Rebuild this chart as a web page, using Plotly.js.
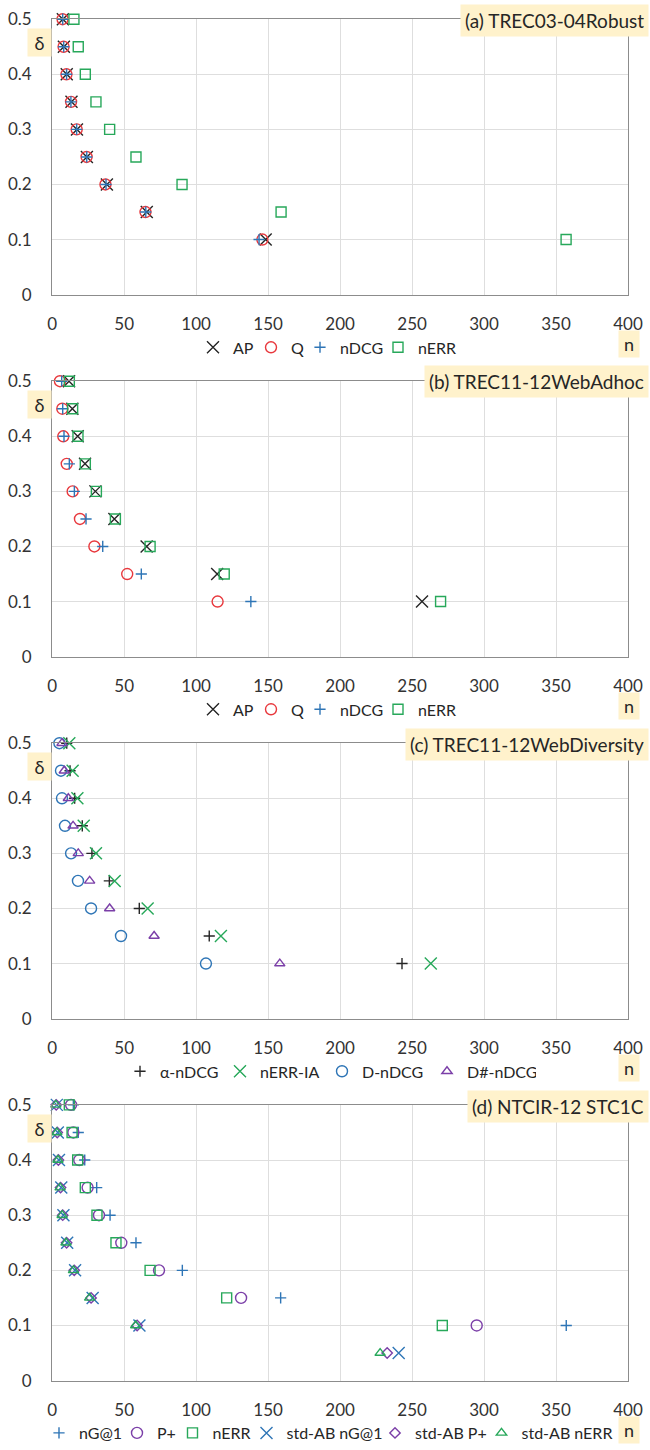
<!DOCTYPE html>
<html><head><meta charset="utf-8">
<script src="https://cdn.plot.ly/plotly-3.0.1.min.js"></script>
<style>body{margin:0;background:#fff}#chart{width:650px;height:1450px}</style>
</head><body><div id="chart"></div>
<script>
// ---- data ----
const deltas  = [0.5, 0.45, 0.4, 0.35, 0.3, 0.25, 0.2, 0.15, 0.1];
const deltasD = [0.5, 0.45, 0.4, 0.35, 0.3, 0.25, 0.2, 0.15, 0.1, 0.05];

const panelTitles = ["(a) TREC03-04Robust", "(b) TREC11-12WebAdhoc", "(c) TREC11-12WebDiversity", "(d) NTCIR-12 STC1C"];
const xTicks = [0, 50, 100, 150, 200, 250, 300, 350, 400];
const yTicks = [0, 0.1, 0.2, 0.3, 0.4, 0.5];

// (a) TREC03-04Robust
const a_AP   = [7.4, 8.1, 10.1, 13.4, 17.2, 24.1, 38.0, 65.7, 148.3];
const a_Q    = [7.2, 7.9, 9.9, 13.1, 17.0, 23.9, 37.0, 64.8, 146.0];
const a_nDCG = [7.3, 8.0, 10.0, 13.0, 17.0, 24.0, 37.4, 65.0, 143.7];
const a_nERR = [15.1, 18.1, 23.0, 30.4, 39.9, 58.2, 90.2, 159.0, 357.0];

// (b) TREC11-12WebAdhoc
const b_AP   = [11.7, 14.0, 17.7, 22.8, 30.0, 43.2, 65.6, 114.6, 256.9];
const b_Q    = [5.4, 7.0, 7.7, 10.1, 14.2, 19.3, 29.3, 52.1, 114.9];
const b_nDCG = [6.6, 7.3, 8.2, 11.9, 15.4, 23.5, 35.1, 61.9, 138.0];
const b_nERR = [11.9, 14.2, 17.9, 23.0, 30.7, 43.9, 68.0, 119.5, 269.8];

// (c) TREC11-12WebDiversity
const c_alphaNDCG = [10.1, 12.4, 15.6, 20.9, 27.6, 39.7, 60.5, 109.1, 243.0];
const c_nERRIA    = [11.9, 14.2, 17.5, 21.9, 30.4, 43.4, 66.3, 117.2, 263.0];
const c_DnDCG     = [5.0, 6.1, 6.8, 8.9, 13.1, 17.9, 27.0, 47.8, 106.8];
const c_DsharpNDCG= [6.8, 8.4, 11.2, 14.5, 18.1, 26.0, 39.9, 70.8, 158.1];

// (d) NTCIR-12 STC1C
const d_nG1      = [14.7, 18.1, 22.6, 30.9, 40.2, 58.2, 90.4, 158.7, 357.1];
const d_Pplus    = [13.1, 14.7, 18.8, 24.6, 32.5, 48.0, 74.2, 131.2, 294.9];
const d_nERR     = [11.9, 13.8, 17.7, 23.0, 31.1, 44.3, 68.0, 121.2, 271.0];
const d_stdNG1   = [3.2, 3.9, 4.7, 6.3, 7.8, 10.4, 15.9, 28.1, 60.6, 240.7];
const d_stdPplus = [2.8, 3.5, 4.3, 5.8, 7.3, 10.0, 15.3, 27.0, 59.0, 232.7];
const d_stdNERR  = [2.5, 3.2, 4.0, 5.5, 6.9, 9.6, 14.8, 26.0, 58.0, 227.8];

// ---- styling ----
const W = 650, H = 1450;
const FONT = 'Lato, "Open Sans", sans-serif';
const BLACK = '#262626', RED = '#e8383d', BLUE = '#2e75b6', GREEN = '#27a85a', PURPLE = '#7b3fa8';
const BOX = '#fff2cc';

const plotLeft = 52.2, plotRight = 628;
const panels = [ {top: 19.3, bottom: 296.3}, {top: 383.3, bottom: 660.3},
                 {top: 747.3, bottom: 1024.3}, {top: 1111, bottom: 1388.3} ];
const titleCy = [20.5, 384, 749, 1112.5];
const legendLeft = [193, 193, 120, 39];

function px2x(p) { return p / W; }
function px2y(p) { return 1 - p / H; }

function trace(x, y, name, symbol, color, size, axIdx, lw) {
  const suf = axIdx === 1 ? '' : String(axIdx);
  return {
    type: 'scatter', mode: 'markers', x: x, y: y, name: name,
    xaxis: 'x' + suf, yaxis: 'y' + suf,
    legend: 'legend' + suf,
    legendwidth: lw,
    cliponaxis: false,
    marker: { symbol: symbol, color: color, size: size, line: { color: color, width: 1.4 } },
    hoverinfo: 'x+y+name'
  };
}

const data = [
  trace(a_AP, deltas, 'AP', 'x-thin-open', BLACK, 12, 1, 13),
  trace(a_Q, deltas, 'Q', 'circle-open', RED, 11, 1, 4),
  trace(a_nDCG, deltas, 'nDCG', 'cross-thin-open', BLUE, 8, 1, 33),
  trace(a_nERR, deltas, 'nERR', 'square-open', GREEN, 10, 1, 38),

  trace(b_AP, deltas, 'AP', 'x-thin-open', BLACK, 12, 2, 13),
  trace(b_Q, deltas, 'Q', 'circle-open', RED, 11, 2, 4),
  trace(b_nDCG, deltas, 'nDCG', 'cross-thin-open', BLUE, 8, 2, 33),
  trace(b_nERR, deltas, 'nERR', 'square-open', GREEN, 10, 2, 38),

  trace(c_alphaNDCG, deltas, 'α-nDCG', 'cross-thin-open', BLACK, 8, 3, 55),
  trace(c_nERRIA, deltas, 'nERR-IA', 'x-thin-open', GREEN, 12, 3, 57),
  trace(c_DnDCG, deltas, 'D-nDCG', 'circle-open', BLUE, 11, 3, 60),
  trace(c_DsharpNDCG, deltas, 'D#-nDCG', 'triangle-up-open', PURPLE, 9, 3, 64),

  trace(d_nG1, deltas, 'nG@1', 'cross-thin-open', BLUE, 8, 4, 33),
  trace(d_Pplus, deltas, 'P+', 'circle-open', PURPLE, 11, 4, 10.5),
  trace(d_nERR, deltas, 'nERR', 'square-open', GREEN, 10, 4, 29),
  trace(d_stdNG1, deltasD, 'std-AB nG@1', 'x-thin-open', BLUE, 12, 4, 83.5),
  trace(d_stdPplus, deltasD, 'std-AB P+', 'diamond-open', PURPLE, 8, 4, 61.5),
  trace(d_stdNERR, deltasD, 'std-AB nERR', 'triangle-up-open', GREEN, 9, 4, 89)
];

const layout = {
  width: W, height: H,
  margin: { l: 0, r: 0, t: 0, b: 0 },
  paper_bgcolor: '#ffffff', plot_bgcolor: '#ffffff',
  font: { family: FONT, color: BLACK, size: 17 },
  showlegend: true,
  annotations: [],
  hovermode: 'closest'
};

panels.forEach((p, i) => {
  const suf = i === 0 ? '' : String(i + 1);
  const yDom = [px2y(p.bottom), px2y(p.top)];
  layout['xaxis' + suf] = {
    domain: [px2x(plotLeft), px2x(plotRight)], anchor: 'y' + suf,
    range: [0, 400], tickvals: xTicks, ticktext: xTicks.map(String),
    showgrid: true, gridcolor: '#dedede', gridwidth: 1,
    showline: true, linecolor: '#8c8c8c', linewidth: 1.3, mirror: true,
    zeroline: false, ticks: '', ticklabelstandoff: 14,
    tickfont: { family: FONT, size: 17, color: '#333333' }, fixedrange: true
  };
  layout['yaxis' + suf] = {
    domain: yDom, anchor: 'x' + suf,
    range: [0, 0.5], tickvals: yTicks, ticktext: yTicks.map(String),
    showgrid: true, gridcolor: '#dedede', gridwidth: 1,
    showline: true, linecolor: '#8c8c8c', linewidth: 1.3, mirror: true,
    zeroline: false, ticks: '', ticklabelstandoff: 16,
    tickfont: { family: FONT, size: 17, color: '#333333' }, fixedrange: true
  };
  layout['legend' + suf] = {
    orientation: 'h', xanchor: 'left', yanchor: 'middle',
    x: px2x(legendLeft[i]), y: px2y(p.bottom + 53),
    font: { family: FONT, size: 16, color: BLACK },
    bgcolor: 'rgba(0,0,0,0)', borderwidth: 0, itemwidth: 30,
    itemclick: false, itemdoubleclick: false
  };
  // panel title box
  layout.annotations.push({
    xref: 'paper', yref: 'paper', x: px2x(649), y: px2y(titleCy[i]),
    xanchor: 'right', yanchor: 'middle', text: panelTitles[i], showarrow: false,
    font: { family: FONT, size: 19, color: BLACK }, bgcolor: BOX, borderpad: 4, height: 23
  });
  // delta label
  layout.annotations.push({
    xref: 'paper', yref: 'paper', x: px2x(39.5), y: px2y(p.top + 23.5),
    xanchor: 'center', yanchor: 'middle', text: 'δ', showarrow: false,
    font: { family: FONT, size: 18, color: BLACK }, bgcolor: BOX, width: 23, height: 27, borderpad: 0
  });
  // n label
  layout.annotations.push({
    xref: 'paper', yref: 'paper', x: px2x(629), y: px2y(p.bottom + 50),
    xanchor: 'center', yanchor: 'middle', text: 'n', showarrow: false,
    font: { family: FONT, size: 18, color: BLACK }, bgcolor: BOX, width: 20, height: 26, borderpad: 0
  });
});

Plotly.newPlot('chart', data, layout, { displayModeBar: false, staticPlot: false });
</script></body></html>
